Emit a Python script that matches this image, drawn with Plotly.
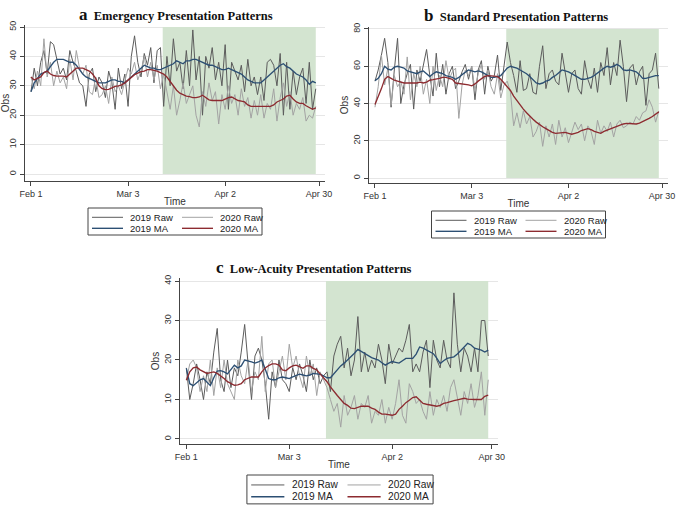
import plotly.graph_objects as go

# ---------------- data ----------------
days = list(range(89))                     # Feb 1 .. Apr 29 (day index)
tick_vals = [0, 30, 60, 89]
tick_text = ["Feb 1", "Mar 3", "Apr 2", "Apr 30"]
shade_start = 40.7
shade_end = 88

series_names = ["2019 Raw", "2020 Raw", "2019 MA", "2020 MA"]

# Panel a: Emergency
a_raw_2019 = [28, 36, 30, 38, 42, 34, 45, 44, 39, 34,
              36, 32, 42, 38, 35, 31, 30, 23, 34, 36,
              28, 33, 31, 26, 35, 31, 22, 36, 29, 34,
              23, 40, 47, 38, 33, 41, 37, 43, 31, 42,
              43, 23, 40, 30, 46, 35, 38, 29, 42, 30,
              49, 32, 40, 20, 40, 36, 43, 32, 38, 30,
              44, 22, 38, 35, 32, 37, 28, 39, 30, 33,
              27, 33, 25, 38, 39, 37, 30, 41, 20, 38,
              22, 35, 27, 33, 36, 24, 38, 22, 29]
a_raw_2020 = [33, 29, 35, 30, 46, 33, 38, 30, 35, 31,
              33, 29, 39, 32, 42, 36, 34, 37, 28, 27,
              33, 26, 27, 30, 24, 33, 28, 30, 27, 32,
              36, 34, 38, 32, 35, 40, 33, 38, 32, 37,
              29, 34, 28, 22, 30, 20, 25, 31, 24, 27,
              30, 20, 16, 28, 23, 31, 25, 28, 17, 27,
              22, 30, 24, 27, 20, 29, 23, 26, 19, 25,
              20, 27, 19, 24, 22, 29, 18, 26, 31, 23,
              28, 20, 24, 22, 26, 18, 20, 19, 23]
a_ma_2019 = [28, 31, 32.5, 34, 34.5, 35, 36.5, 38, 39, 39,
             39, 38.5, 38, 38, 37, 35.5, 34, 33, 32.5, 32,
             31.5, 31, 31, 31, 31.5, 32, 32, 31.5, 31.5, 31,
             32, 33, 34, 35, 36, 37, 36.5, 36, 36, 35.5,
             35.5, 36, 36.5, 37, 37.5, 38.5, 38, 37.5, 38.5, 38.5,
             39, 39, 38.5, 38, 37.5, 37, 37, 36.5, 36, 35.5,
             35.5, 36, 35.5, 35, 34.5, 34, 33, 32, 31.5, 31,
             31, 31, 32, 33, 34, 35, 36, 37, 37.5, 36.5,
             36, 35, 34, 33.5, 33, 32, 30.5, 31.5, 31]
a_ma_2020 = [33, 32, 32.5, 33, 34.5, 35, 34, 33.5, 33.3, 33.3,
             33.3, 33, 34, 35, 36, 36, 36, 35.5, 35, 34,
             32.5, 30, 29, 28.7, 28.8, 29.3, 29.8, 30, 30.3, 31,
             32, 33, 33.8, 34.3, 34.8, 35, 35.5, 35.5, 35.3, 35,
             34.5, 34, 33, 31.5, 30, 28.5, 27.5, 27, 26.5, 26.3,
             26, 26, 26.2, 26.8, 26, 25.2, 25, 25, 25, 25,
             25.5, 26, 26.2, 25.5, 25, 24.8, 24.5, 23.5, 23, 23,
             22.9, 23, 23, 23, 23, 23.5, 24.5, 25, 25.5, 26.5,
             26.8, 25.5, 24.5, 24, 24, 23.2, 22.5, 22, 22.5]

# Panel b: Standard
b_raw_2019 = [52, 58, 66, 75, 62, 38, 58, 75, 40, 50,
              56, 61, 37, 58, 52, 60, 69, 55, 44, 67,
              49, 61, 45, 56, 60, 48, 52, 57, 61, 53,
              60, 42, 58, 63, 45, 60, 52, 55, 66, 47,
              60, 73, 62, 55, 46, 63, 47, 48, 56, 46,
              45, 60, 71, 48, 56, 58, 52, 50, 67, 57,
              46, 56, 58, 48, 45, 63, 53, 48, 59, 46,
              62, 55, 70, 50, 62, 55, 74, 60, 41, 59,
              61, 50, 57, 60, 39, 56, 58, 67, 48]
b_raw_2020 = [38, 49, 66, 50, 59, 39, 55, 49, 52, 45,
              65, 42, 56, 49, 60, 45, 53, 40, 60, 47,
              55, 49, 63, 53, 57, 59, 32, 50, 58, 55,
              60, 47, 56, 61, 53, 58, 49, 45, 56, 43,
              50, 52, 46, 28, 35, 27, 36, 29, 33, 22,
              25, 30, 17, 28, 22, 29, 18, 31, 22, 27,
              19, 25, 30, 26, 29, 20, 28, 25, 18, 31,
              24, 28, 25, 30, 22, 29, 31, 27, 28, 30,
              29, 33, 31, 35, 36, 42, 38, 30, 36]
b_ma_2019 = [52.3, 53.5, 56, 60, 58.5, 58, 59.5, 60, 59.5, 59,
             57.5, 57, 56.5, 56, 57, 57.5, 56, 54.5, 56, 57,
             56.5, 56, 55, 54.5, 54, 53, 54, 55.5, 57, 58,
             57.5, 57, 57.5, 57, 56, 55, 54, 54, 54.5, 55,
             57, 59, 60, 59.5, 59, 58, 57, 56, 54.5, 52.5,
             51, 50.5, 51, 52, 52.5, 54, 55, 56.5, 58, 57.5,
             57, 56, 55, 54, 53, 53, 53.5, 54, 55, 56.5,
             58, 59, 60, 59.5, 60, 61, 60, 58, 57.7, 58,
             57.5, 57, 55.5, 53.5, 53.5, 54, 54.5, 55, 55]
b_ma_2020 = [39.5, 43.5, 48, 53, 54.5, 53.5, 52.5, 52, 51.5, 51,
             51, 51, 51, 51, 51.5, 51, 51.5, 52.5, 52.8, 53,
             53.5, 54, 54, 53.5, 53, 51, 50.8, 50.5, 50.5, 50,
             49.5, 50.5, 52, 53.5, 54.5, 55, 55, 54.7, 54.4, 53,
             51, 49, 47, 44, 41.5, 39, 37, 35, 33, 31.5,
             30, 28.5, 27.5, 26.5, 25.5, 24.5, 24, 24.2, 24.5, 24.5,
             24, 23.5, 24, 24.5, 25.5, 26, 26.5, 26, 25, 24.5,
             24, 25, 25.7, 26.2, 27, 27.8, 28.5, 29, 29.3, 29.3,
             29, 29, 29.5, 30.2, 31, 32, 33, 34.5, 35.5]

# Panel c: Low-Acuity
c_raw_2019 = [18, 10, 14, 19, 15, 10, 17, 14, 22, 28,
              15, 12, 20, 13, 18, 16, 22, 29, 19, 10,
              21, 23, 20, 14, 5, 17, 13, 20, 15, 14,
              12, 18, 15, 19, 16, 12, 20, 15, 18, 14,
              16, 17, 12, 21, 24, 26, 18, 23, 16, 20,
              31, 17, 22, 17, 20, 18, 24, 20, 14, 24,
              19, 21, 23, 22, 25, 29, 17, 19, 17, 22,
              25, 13, 25, 20, 18, 25, 20, 18, 37, 24,
              17, 23, 21, 17, 23, 17, 30, 30, 21]
c_raw_2020 = [15, 19, 20, 18, 12, 16, 12, 20, 11, 18,
              13, 20, 14, 12, 10, 20, 16, 14, 20, 12,
              17, 15, 26, 12, 19, 20, 13, 17, 21, 15,
              24, 18, 21, 16, 13, 21, 16, 19, 11, 17,
              15, 13, 10, 7, 9, 3, 11, 6, 8, 11,
              5, 9, 8, 11, 4, 7, 6, 10, 4, 8,
              5, 9, 15, 6, 4, 14, 12, 9, 10, 7,
              5, 12, 6, 10, 8, 11, 7, 13, 15, 10,
              6, 12, 9, 14, 8, 11, 17, 6, 15]
c_ma_2019 = [17.9, 14, 13.5, 14.2, 15, 15.3, 14.5, 13.5, 15.5, 17.2,
             17.3, 17, 16.5, 17.5, 18.7, 18, 18.5, 20, 19.8, 19.5,
             19.2, 19.5, 20, 17.5, 15.3, 15, 15, 15.5, 15.7, 15.5,
             15.3, 15.7, 16, 16.4, 16.2, 16, 16.2, 16.6, 16.5, 16.4,
             16, 15.5, 15.5, 16.5, 17.5, 18.5, 19.2, 20, 20.7, 21.7,
             22.7, 22.2, 21.6, 21, 20.6, 20.3, 20, 19.3, 18.7, 19.2,
             19.6, 19.4, 19.2, 19.8, 20.4, 20.4, 20.4, 21.5, 23.3, 23,
             22.5, 22, 21.6, 20.5, 19.1, 19.8, 20.4, 20.6, 20.8, 21.5,
             22.5, 23.3, 24.2, 23.8, 23, 22.8, 22.5, 22, 22.5]
c_ma_2020 = [14.9, 17, 18, 18.2, 17.5, 17, 16.6, 16.8, 17, 16.6,
             16, 15.3, 14.5, 14, 13.6, 13.7, 14, 15, 15.4, 15.7,
             15.7, 15.7, 17, 18, 18.6, 19, 19, 18.7, 17.5, 17.3,
             18, 18.5, 18.7, 18.3, 17.9, 18.5, 18.5, 17.9, 17.5, 16.5,
             15.5, 14.5, 13.2, 12, 11, 10, 9, 8.5, 7.8, 7.7,
             8, 8.3, 8.3, 8.3, 7.8, 7.5, 6.8, 6.3, 6.3, 6.2,
             6, 6.3, 7.5, 8.3, 9.2, 9.8, 10.5, 10.7, 9.8, 9,
             8.8, 8.6, 8.5, 8.3, 8.5, 9, 9.2, 9.5, 9.7, 9.9,
             10.1, 10.3, 10.1, 10, 10, 10, 10, 10.8, 11.1]

titles = ["a", "b", "c"]
subtitles = ["Emergency Presentation Patterns",
             "Standard Presentation Patterns",
             "Low-Acuity Presentation Patterns"]
y_tops = [50, 80, 40]
y_dticks = [10, 20, 10]

# ---------------- styling / layout ----------------
W, H = 676, 510
colors = ["#5c5c5c", "#a3a3a3", "#2c4f73", "#8d2b30"]
widths = [1.0, 1.0, 1.35, 1.35]
shade_color = "rgb(211,228,208)"

# pixel geometry of each panel
panels = [
    dict(x0=25, x1=325, yt=25, yb=181, yr=[-2.38, 50.68], tx=176, ty=14,
         lx=175, ly=208, ls=1.0),
    dict(x0=369, x1=668, yt=27, yb=183, yr=[-2.68, 81.07], tx=516, ty=15,
         lx=518.5, ly=211, ls=1.0),
    dict(x0=180, x1=498, yt=278, yb=444, yr=[-1.27, 40.76], tx=314, ty=267,
         lx=340, ly=475, ls=1.07),
]
data_sets = [
    [a_raw_2019, a_raw_2020, a_ma_2019, a_ma_2020],
    [b_raw_2019, b_raw_2020, b_ma_2019, b_ma_2020],
    [c_raw_2019, c_raw_2020, c_ma_2019, c_ma_2020],
]

fig = go.Figure()
annotations = []
shapes = []
axis_font = dict(family="Liberation Sans, Arial", size=9, color="#333333")
title_font = dict(family="Liberation Sans, Arial", size=10, color="#333333")

for i, (p, ds) in enumerate(zip(panels, data_sets)):
    sfx = "" if i == 0 else str(i + 1)
    xa, ya = "x" + sfx, "y" + sfx
    for name, vals, col, wd in zip(series_names, ds, colors, widths):
        fig.add_trace(go.Scatter(x=days, y=vals, mode="lines", name=name,
                                 line=dict(color=col, width=wd),
                                 xaxis=xa, yaxis=ya, showlegend=False))
    # lockdown shading
    shapes.append(dict(type="rect", xref=xa, yref=ya, x0=shade_start,
                       x1=shade_end, y0=0, y1=y_tops[i], fillcolor=shade_color,
                       line=dict(width=0), layer="between"))
    fig.layout["xaxis" + sfx] = dict(
        domain=[p["x0"] / W, p["x1"] / W], range=[-1.85, 90.85],
        anchor=ya, tickvals=tick_vals, ticktext=tick_text,
        showgrid=False, zeroline=False, showline=True, linecolor="#444444",
        linewidth=1, ticks="outside", ticklen=4, tickcolor="#444444",
        tickfont=axis_font, ticklabeloverflow="allow",
        title=dict(text="Time", font=title_font, standoff=0),
        automargin=False)
    fig.layout["yaxis" + sfx] = dict(
        domain=[1 - p["yb"] / H, 1 - p["yt"] / H], range=p["yr"],
        anchor=xa, tickmode="linear", tick0=0, dtick=y_dticks[i],
        showgrid=True, gridcolor="#e6e6e6", gridwidth=1, zeroline=False,
        showline=True, linecolor="#444444", linewidth=1, ticks="outside",
        ticklen=4, tickcolor="#444444", tickangle=-90, tickfont=axis_font,
        title=dict(text="Obs", font=title_font, standoff=1),
        automargin=False)
    # panel title
    annotations.append(dict(
        xref="paper", yref="paper", x=p["tx"] / W, y=1 - p["ty"] / H,
        xanchor="center", yanchor="middle", showarrow=False,
        text="<b><span style='font-size:17px'>" + titles[i] + "</span>&nbsp;&nbsp;"
             + subtitles[i] + "</b>",
        font=dict(family="Liberation Serif, Times New Roman", size=12.5, color="#111111")))
    # legend box (drawn per panel)
    s = p["ls"]
    left = p["lx"] - 87 * s
    top = p["ly"]
    shapes.append(dict(type="rect", xref="paper", yref="paper",
                       x0=left / W, x1=(left + 174 * s) / W,
                       y0=1 - top / H, y1=1 - (top + 27 * s) / H,
                       line=dict(color="#444444", width=1), fillcolor="white"))
    slots = [(0, 0), (1, 0), (0, 1), (1, 1)]   # (col,row) for each series
    for name, col, wd, (cc, rr) in zip(series_names, colors, widths, slots):
        yy = top + (9.3 + 11 * rr) * s
        lx0 = left + (4 + 90 * cc) * s
        shapes.append(dict(type="line", xref="paper", yref="paper",
                           x0=lx0 / W, x1=(lx0 + 31 * s) / W,
                           y0=1 - yy / H, y1=1 - yy / H,
                           line=dict(color=col, width=wd)))
        annotations.append(dict(
            xref="paper", yref="paper", x=(lx0 + 36 * s) / W, y=1 - yy / H,
            xanchor="left", yanchor="middle", showarrow=False, text=name,
            font=dict(family="Liberation Sans, Arial", size=9.5 * s, color="#222222")))

fig.update_layout(width=W, height=H, margin=dict(l=0, r=0, t=0, b=0),
                  paper_bgcolor="white", plot_bgcolor="white",
                  showlegend=False, shapes=shapes, annotations=annotations)

fig.write_html("out.html", config={"displayModeBar": False},
               post_script="document.body.style.margin='0';document.body.style.overflow='hidden';")
